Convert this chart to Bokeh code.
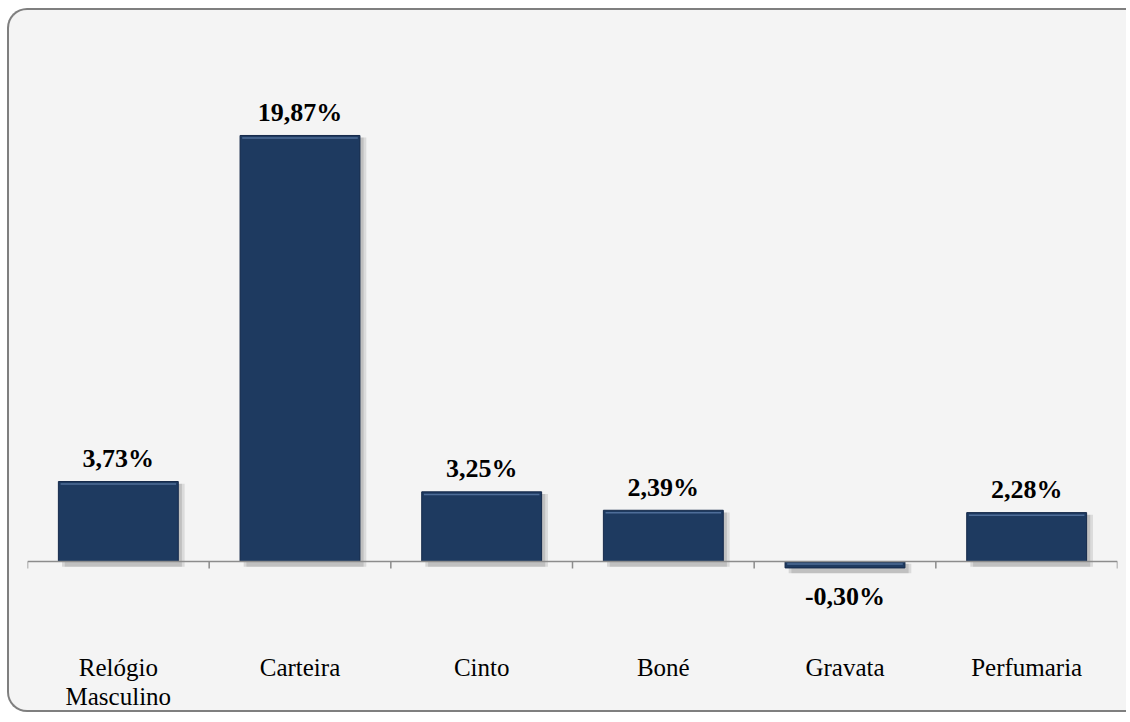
import numpy as np
from bokeh.plotting import figure
from bokeh.models import ColumnDataSource, Range1d, FactorRange, Span
from bokeh.transform import dodge
from bokeh.core.properties import value
from bokeh.embed import file_html
from bokeh.resources import INLINE

categories = ["Relógio\nMasculino", "Carteira", "Cinto", "Boné", "Gravata", "Perfumaria"]
values = [3.73, 19.87, 3.25, 2.39, -0.30, 2.28]
labels = ["3,73%", "19,87%", "3,25%", "2,39%", "-0,30%", "2,28%"]

FONT = "Liberation Serif, Times New Roman, serif"

vals = np.array(values)
pos = vals >= 0
src = ColumnDataSource(dict(
    cat=categories,
    val=values,
    lab=labels,
    top=np.where(pos, vals, 0.0),
    bot=np.where(pos, 0.0, vals),
    sh_top=np.where(pos, vals, 0.0) - 0.1,
    sh_bot=np.where(pos, 0.0, vals) - 0.25,
    hl=np.where(pos, vals, 0.0) - 0.12,
    yoff=np.where(pos, -23, 29),
))

p = figure(
    width=1119, height=704,
    x_range=FactorRange(factors=categories, range_padding=0),
    y_range=Range1d(-3.685, 24.30),
    output_backend="svg", toolbar_location=None,
    min_border_left=18, min_border_right=11, min_border_top=30, min_border_bottom=74,
)
p.styles = {
    "margin-left": "7px",
    "margin-top": "8px",
    "border-left": "2px solid #7f7f7f",
    "border-top": "2px solid #7f7f7f",
    "border-bottom": "2px solid #7f7f7f",
    "border-radius": "20px 0 0 20px",
    "background-color": "#f4f4f4",
}
p.border_fill_color = None
p.background_fill_color = None
p.outline_line_color = None
p.grid.visible = False
p.yaxis.visible = False

ax = p.xaxis[0]
ax.axis_line_color = None
ax.major_tick_line_color = None
ax.minor_tick_line_color = None
ax.major_tick_out = 0
ax.major_label_standoff = 13
ax.major_label_text_font = FONT
ax.major_label_text_font_size = "25px"
ax.major_label_text_color = "#000000"
ax.major_label_text_line_height = 1.1

# shadows
p.vbar(x=dodge("cat", 0.035, range=p.x_range), top="sh_top", bottom="sh_bot", width=0.66,
       source=src, fill_color="#000000", fill_alpha=0.10, line_color=None)
p.vbar(x=dodge("cat", 0.02, range=p.x_range), top="sh_top", bottom="sh_bot", width=0.66,
       source=src, fill_color="#000000", fill_alpha=0.12, line_color=None)

# zero axis line
p.add_layout(Span(location=0, dimension="width", line_color="#8c8c8c", line_width=1.5))

# boundary ticks
p.segment(x0=dodge("cat", -0.5, range=p.x_range), x1=dodge("cat", -0.5, range=p.x_range),
          y0=0, y1=-0.33, source=src, line_color="#8c8c8c", line_width=1.5)
last = ColumnDataSource(dict(cat=categories[-1:]))
p.segment(x0=dodge("cat", 0.5, range=p.x_range), x1=dodge("cat", 0.5, range=p.x_range),
          y0=0, y1=-0.33, source=last, line_color="#8c8c8c", line_width=1.5)

# bars
p.vbar(x="cat", top="top", bottom="bot", width=0.66, source=src,
       fill_color="#1e3a60", line_color="#15294a", line_width=1)
# bevel highlight
p.segment(x0=dodge("cat", -0.318, range=p.x_range), x1=dodge("cat", 0.318, range=p.x_range),
          y0="hl", y1="hl", source=src, line_color="#5a7aa6", line_width=1.5, line_alpha=0.8)

# value labels
p.text(x="cat", y="val", text="lab", source=src, y_offset="yoff",
       text_align="center", text_baseline="alphabetic",
       text_font=value(FONT), text_font_style="bold",
       text_font_size="26px", text_color="#000000")

open("out.html", "w").write(file_html(p, INLINE))
